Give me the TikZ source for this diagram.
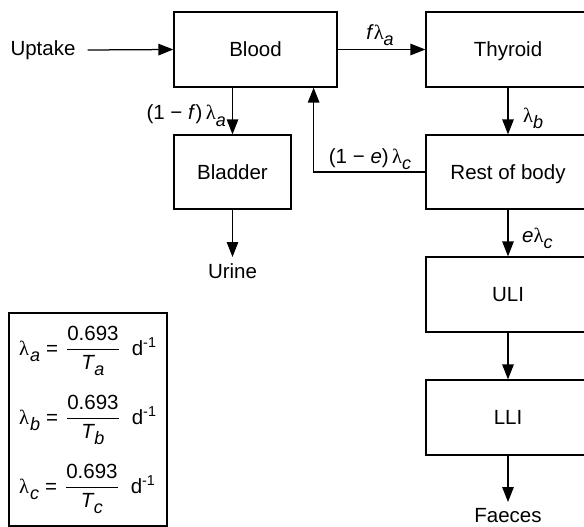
\documentclass[tikz,border=0pt]{standalone}
\usepackage{fontspec}
\usepackage{amsmath}
\setmainfont{Liberation Sans}
\newfontfamily\lamfont{Liberation Serif}
\usetikzlibrary{arrows.meta}
\newcommand\lam{{\lamfont λ}}
\newcommand\subsc[1]{\raisebox{-6pt}{\fontsize{18}{18}\selectfont\itshape #1}}
\newcommand\eqline[1]{$\text{\lam\kern1pt\subsc{#1}\hspace{6pt}=\hspace{8pt}}\dfrac{\text{0.693}}{\text{\itshape T\kern0.5pt\subsc{#1}}}\text{\hspace{12pt}d\textsuperscript{-1}}$}
\begin{document}
\begin{tikzpicture}[x=1pt,y=-1pt,
  font=\fontsize{20.5}{24}\selectfont,
  box/.style={draw, line width=1.25pt, inner sep=0pt, minimum height=75pt, text height=18.7pt, text depth=4pt},
  arr/.style={-{Triangle[length=15pt,width=11.5pt]}, line width=1.25pt},
  lbl/.style={inner sep=0pt},
  endtxt/.style={anchor=north, inner xsep=0pt, inner ysep=6pt}]
\useasboundingbox (0,0) rectangle (584,527);
\node[box, minimum width=163pt] (blood) at (255.5,49.5) {Blood};
\node[box, minimum width=164pt] (thyroid) at (508,49.5) {Thyroid};
\node[box, minimum width=117pt, minimum height=74pt] (bladder) at (232.5,172) {Bladder};
\node[box, minimum width=164pt, minimum height=74pt] (rest) at (508,172) {Rest of body};
\node[box, minimum width=164pt] (uli) at (508,294.5) {ULI};
\node[box, minimum width=164pt] (lli) at (508,417.5) {LLI};
\node[inner sep=0pt] (uptake) at (43,50) {Uptake};
\node[endtxt] (urine) at (232.5,257) {Urine};
\node[endtxt] (faeces) at (508,502) {Faeces};
\draw[arr] ([xshift=12pt]uptake.east) -- (blood.west);
\draw[arr] (blood.east) -- (thyroid.west);
\node[lbl, anchor=base] (lfa) at (380,40) {\textit{f}\lam\subsc{a}};
\draw[arr] (bladder.north |- blood.south) -- (bladder.north);
\node[lbl, anchor=base east] (l1f) at (226,120) {(1 − \textit{f})\,\lam\subsc{a}};
\draw[arr] (bladder.south) -- (urine.north);
\draw[arr] (thyroid.south) -- (rest.north);
\node[lbl, anchor=base west] (lb) at (523,122) {\lam\subsc{b}};
\draw[arr] (rest.west) -| ([xshift=-24pt]blood.south east);
\node[lbl, anchor=base] (l1e) at (370,163) {(1 − \textit{e})\,\lam\subsc{c}};
\draw[arr] (rest.south) -- (uli.north);
\node[lbl, anchor=base west] (lec) at (522,242) {\textit{e}\lam\subsc{c}};
\draw[arr] (uli.south) -- (lli.north);
\draw[arr] (lli.south) -- (faeces.north);
\node[draw, line width=1.25pt, minimum width=158pt, minimum height=213pt, inner sep=0pt] (legend) at (88,419.5) {};
\node[lbl, anchor=base west] (eqa) at (19,355) {\eqline{a}};
\node[lbl, anchor=base west] (eqb) at (19,424) {\eqline{b}};
\node[lbl, anchor=base west] (eqc) at (19,493) {\eqline{c}};
\end{tikzpicture}
\end{document}
